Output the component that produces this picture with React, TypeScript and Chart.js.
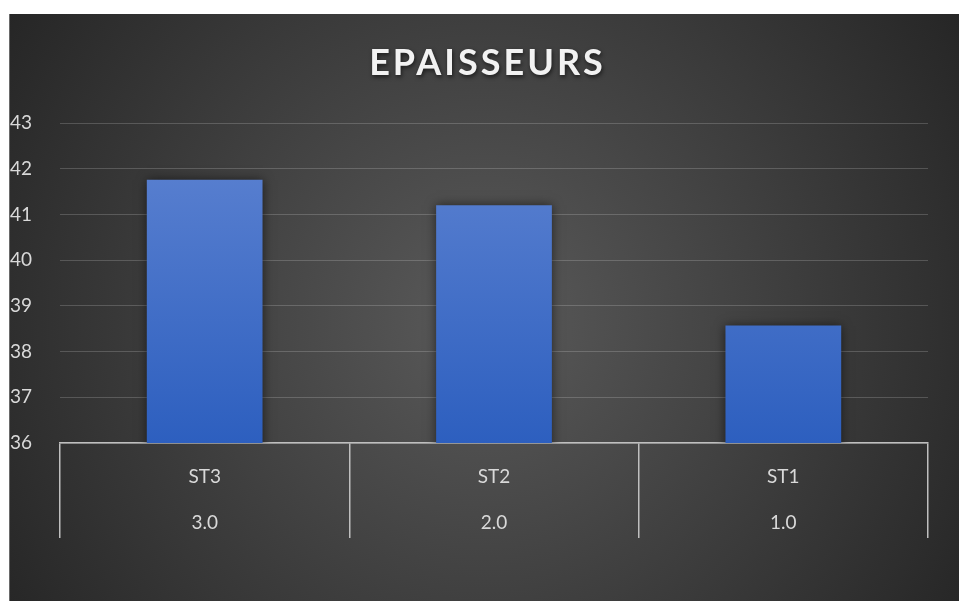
import React, { useEffect, useRef } from "react";
import { Chart, registerables } from "chart.js";

Chart.register(...registerables);

const title = "EPAISSEURS";
const stations = ["ST3", "ST2", "ST1"];
const stationCodes = ["3.0", "2.0", "1.0"];
const thickness = [41.76, 41.2, 38.57];
const yMin = 36;
const yMax = 43;

const barShadow = {
  id: "barShadow",
  beforeDatasetsDraw(chart: any) {
    const ctx = chart.ctx;
    ctx.save();
    ctx.shadowColor = "rgba(0,0,0,0.55)";
    ctx.shadowBlur = 10;
  },
  afterDatasetsDraw(chart: any) {
    chart.ctx.restore();
  },
};

const titlePlugin = {
  id: "titleDraw",
  afterDraw(chart: any) {
    const ctx = chart.ctx;
    ctx.save();
    ctx.font = "bold 36px Lato";
    (ctx as any).letterSpacing = "3px";
    ctx.textAlign = "center";
    ctx.textBaseline = "middle";
    ctx.fillStyle = "#f2f2f2";
    ctx.shadowColor = "rgba(0,0,0,0.6)";
    ctx.shadowBlur = 4;
    ctx.shadowOffsetX = 1;
    ctx.shadowOffsetY = 2;
    ctx.fillText(title, chart.width / 2 + 3, 49);
    ctx.restore();
  },
};

export default function App() {
  const ref = useRef<HTMLCanvasElement | null>(null);

  useEffect(() => {
    if (!ref.current) return;
    const labels = stations.map((s, i) => [s, stationCodes[i]]);
    const chart = new Chart(ref.current, {
      type: "bar",
      data: {
        labels,
        datasets: [
          {
            label: title,
            data: thickness,
            backgroundColor: (c: any) => {
              const area = c.chart.chartArea;
              if (!area) return "#3f6cc9";
              const g = c.chart.ctx.createLinearGradient(0, area.top, 0, area.bottom);
              g.addColorStop(0, "#5f84d2");
              g.addColorStop(1, "#2d5fbf");
              return g;
            },
            borderWidth: 0,
            barPercentage: 0.4,
            categoryPercentage: 1,
          },
        ],
      },
      options: {
        animation: false,
        responsive: true,
        maintainAspectRatio: false,
        layout: { padding: { left: 0, right: 31, top: 109, bottom: 48 } },
        plugins: {
          legend: { display: false },
          tooltip: { enabled: false },
          title: { display: false },
        },
        scales: {
          x: {
            offset: true,
            afterFit: (s: any) => {
              s.height = 110;
            },
            grid: {
              offset: true,
              drawOnChartArea: false,
              drawTicks: true,
              tickLength: 95,
              color: "#bfbfbf",
              lineWidth: 1.5,
            },
            border: { display: true, color: "#bfbfbf", width: 1.5 },
            ticks: {
              color: "#d9d9d9",
              font: { family: "Lato", size: 19, lineHeight: 46 / 19 },
              padding: -84,
              maxRotation: 0,
              autoSkip: false,
            },
          },
          y: {
            min: yMin,
            max: yMax,
            afterFit: (s: any) => {
              s.width = 50;
            },
            grid: {
              color: "rgba(255,255,255,0.18)",
              lineWidth: 1,
              drawTicks: false,
            },
            border: { display: false },
            ticks: {
              stepSize: 1,
              color: "#d9d9d9",
              font: { family: "Lato", size: 19 },
              crossAlign: "far",
              padding: 0,
            },
          },
        },
      },
      plugins: [barShadow, titlePlugin],
    });
    return () => chart.destroy();
  }, []);

  return (
    <div
      style={{
        position: "absolute",
        left: 9,
        top: 14,
        width: 950,
        height: 587,
        background:
          "radial-gradient(circle farthest-corner at 50% 52%, #5a5a5a 0%, #262626 100%)",
        borderLeft: "1px solid #6a6a6a",
        boxSizing: "border-box",
      }}
    >
      <canvas ref={ref} />
    </div>
  );
}
